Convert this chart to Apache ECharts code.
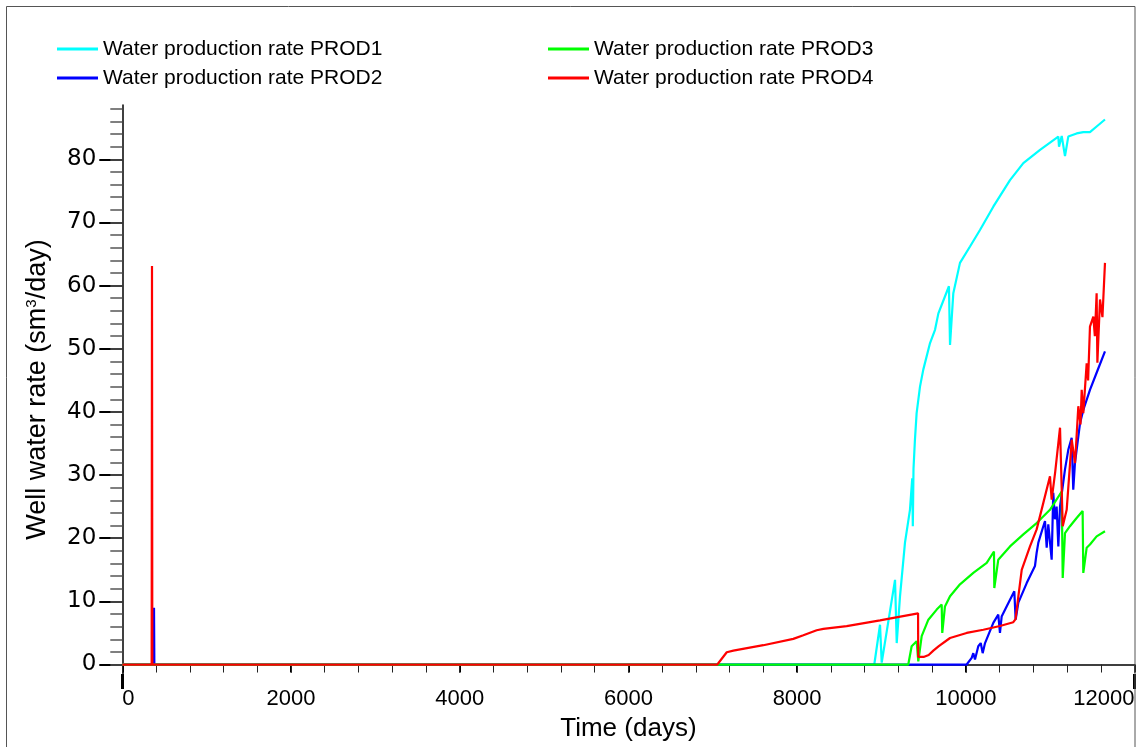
<!DOCTYPE html>
<html>
<head>
<meta charset="utf-8">
<script src="https://cdn.jsdelivr.net/npm/echarts@6/dist/echarts.min.js"></script>
<style>
html,body{margin:0;padding:0;background:#fff;}
#chart{width:1138px;height:747px;}
</style>
</head>
<body>
<div id="chart"></div>
<script>
var seriesNames = ['Water production rate PROD1','Water production rate PROD2','Water production rate PROD3','Water production rate PROD4'];
var seriesColors = ['#00FFFF','#0000FF','#00FF00','#FF0000'];

var prod1 = [[0,0],[8915,0],[8983,6.3],[9003,0.3],[9161,13.4],[9181,3.4],[9220,10.8],[9279,19.3],[9338,24.5],[9365,29.5],[9372,21.9],[9380,31.0],[9397,35.6],[9417,39.8],[9457,44.0],[9496,46.7],[9576,50.9],[9635,53.0],[9675,55.6],[9800,59.9],[9813,50.6],[9852,58.8],[9931,63.6],[10050,66.2],[10168,68.8],[10326,72.5],[10524,76.7],[10682,79.4],[10880,81.5],[11097,83.6],[11105,82.0],[11137,83.7],[11176,80.5],[11215,83.6],[11314,84.1],[11393,84.3],[11472,84.3],[11551,85.2],[11650,86.3]];

var prod2 = [[0,0],[372,0],[376,9.0],[380,0],[10010,0],[10070,1.05],[10089,1.8],[10109,0.8],[10148,2.9],[10177,3.4],[10200,1.8],[10228,3.4],[10326,6.6],[10385,7.9],[10405,5.0],[10425,7.6],[10484,9.2],[10575,11.6],[10591,7.1],[10623,9.8],[10722,12.9],[10820,15.6],[10840,17.7],[10860,19.3],[10919,21.9],[10939,22.7],[10959,18.5],[10978,22.2],[11018,16.6],[11037,27.2],[11057,23.0],[11077,25.0],[11097,18.7],[11117,25.0],[11176,30.9],[11215,34.0],[11255,35.9],[11274,27.7],[11294,31.9],[11354,38.2],[11393,40.3],[11472,43.5],[11551,46.2],[11650,49.6]];

var prod3 = [[0,0],[9318,0],[9358,2.9],[9417,3.7],[9437,0.5],[9477,4.5],[9556,7.1],[9655,8.7],[9714,9.5],[9721,5.0],[9753,9.2],[9813,10.8],[9931,12.7],[10089,14.5],[10248,16.1],[10334,17.9],[10338,12.1],[10385,16.6],[10524,18.7],[10682,20.6],[10840,22.4],[10998,24.5],[11137,27.4],[11149,13.7],[11176,20.8],[11235,21.9],[11314,23.2],[11385,24.3],[11393,14.5],[11433,18.5],[11472,19.0],[11551,20.3],[11650,21.1]];

var prod4 = [[0,0],[348,0],[352,63.1],[356,0],[7054,0],[7166,1.95],[7244,2.2],[7600,3.06],[7955,4.06],[8074,4.64],[8232,5.43],[8311,5.64],[8588,6.07],[8983,7.0],[9062,7.2],[9434,8.1],[9436,1.2],[9500,1.2],[9560,1.5],[9615,2.2],[9680,2.9],[9813,4.2],[10010,5.0],[10208,5.5],[10405,6.1],[10563,6.7],[10590,7.2],[10623,10.8],[10663,15.0],[10761,18.7],[10840,21.4],[10919,25.6],[10998,29.8],[11018,26.1],[11060,30.5],[11117,37.5],[11149,21.9],[11196,24.5],[11256,35.6],[11295,31.9],[11334,40.9],[11360,38.0],[11374,43.5],[11393,39.8],[11433,47.7],[11450,45.0],[11472,53.5],[11512,55.1],[11530,52.0],[11551,58.8],[11560,47.8],[11591,57.8],[11620,55.0],[11650,63.6]];

var xMajorTicks = [0,2000,4000,6000,8000,10000,12000];
var yMajorTicks = [0,10,20,30,40,50,60,70,80];

var xMinorTicks = [];
for (var i = 0; i <= 12000; i += 400) xMinorTicks.push(i);
var yMinorTicks = [];
for (var j = 0; j <= 88; j += 2) yMinorTicks.push(j);

var chart = echarts.init(document.getElementById('chart'));
var X_MIN = 0, X_MAX = 12000, Y_MIN = -1.5, Y_MAX = 88.6;

function xAxisBase(extra) {
  return Object.assign({
    type: 'value', min: X_MIN, max: X_MAX, position: 'bottom',
    splitLine: {show: false}, axisLine: {show: false},
    axisLabel: {show: false}, axisTick: {show: false}
  }, extra);
}
function yAxisBase(extra) {
  return Object.assign({
    type: 'value', min: Y_MIN, max: Y_MAX, position: 'left',
    splitLine: {show: false}, axisLine: {show: false},
    axisLabel: {show: false}, axisTick: {show: false}
  }, extra);
}

var seriesData = [prod1, prod2, prod3, prod4];
var series = seriesData.map(function (d, k) {
  return {
    name: seriesNames[k], type: 'line', data: d,
    xAxisIndex: 0, yAxisIndex: 0,
    showSymbol: false, symbol: 'none', animation: false,
    lineStyle: {color: seriesColors[k], width: 2.2},
    itemStyle: {color: seriesColors[k]}
  };
});

var legendText = {fontFamily: 'Liberation Sans', fontSize: 21, color: '#000', lineHeight: 22};

chart.setOption({
  animation: false,
  backgroundColor: '#fff',
  grid: {left: 122.3, right: 3.5, top: 105, bottom: 72.5, containLabel: false},
  legend: [
    {data: [seriesNames[0], seriesNames[1]], orient: 'vertical', left: 52, top: 33,
     icon: 'rect', itemWidth: 41, itemHeight: 3, itemGap: 7, textStyle: legendText},
    {data: [seriesNames[2], seriesNames[3]], orient: 'vertical', left: 543, top: 33,
     icon: 'rect', itemWidth: 41, itemHeight: 3, itemGap: 7, textStyle: legendText}
  ],
  xAxis: [
    xAxisBase({
      axisLine: {show: true, lineStyle: {color: '#000', width: 1.5}},
      axisTick: {show: true, customValues: xMajorTicks, length: 8, lineStyle: {color: '#000', width: 2}},
      axisLabel: {show: true, customValues: xMajorTicks, margin: 14, color: '#000',
        fontFamily: 'Liberation Sans', fontSize: 22, alignMinLabel: 'left', alignMaxLabel: 'right',
        formatter: function (v) { return String(v); }},
      name: 'Time (days)', nameLocation: 'middle', nameGap: 42,
      nameTextStyle: {fontFamily: 'Liberation Sans', fontSize: 26, color: '#000'}
    }),
    xAxisBase({axisTick: {show: true, customValues: xMinorTicks, length: 8, lineStyle: {color: '#222', width: 1}}}),
    xAxisBase({axisTick: {show: true, customValues: [0, 12000], length: 15, lineStyle: {color: '#000', width: 3}}})
  ],
  yAxis: [
    yAxisBase({
      axisLine: {show: true, lineStyle: {color: '#000', width: 1.5}},
      axisTick: {show: true, customValues: yMajorTicks, length: 23, lineStyle: {color: '#000', width: 2}},
      axisLabel: {show: true, customValues: yMajorTicks, margin: 26, color: '#000',
        fontFamily: 'DejaVu Sans', fontSize: 23, formatter: function (v) { return String(v); }},
      name: 'Well water rate (sm{sup|3}/day)', nameLocation: 'middle', nameGap: 71, nameRotate: 90,
      nameTextStyle: {fontFamily: 'Liberation Sans', fontSize: 27, color: '#000',
        rich: {sup: {fontFamily: 'Liberation Sans', fontSize: 15, verticalAlign: 'top', padding: [0, 0, 12, 0], color: '#000'}}}
    }),
    yAxisBase({axisTick: {show: true, customValues: yMinorTicks, length: 12, lineStyle: {color: '#555', width: 1.5}}})
  ],
  graphic: [
    {type: 'rect', z: 100, silent: true, shape: {x: 6.5, y: 6.5, width: 1128.5, height: 800},
     style: {fill: 'none', stroke: '#555', lineWidth: 1}}
  ],
  series: series
});
</script>
</body>
</html>
